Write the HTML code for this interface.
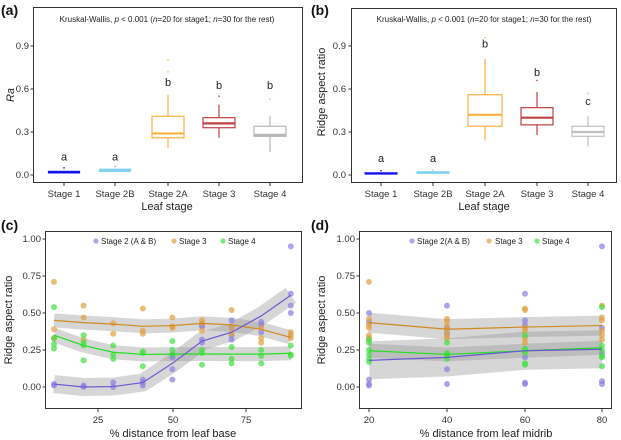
<!DOCTYPE html>
<html><head><meta charset="utf-8"><style>
html,body{margin:0;padding:0;background:#fff}
svg{display:block;font-family:"Liberation Sans",Arial,sans-serif}
</style></head><body>
<svg id="s" width="621" height="440" viewBox="0 0 621 440" xmlns="http://www.w3.org/2000/svg">
<rect width="621" height="440" fill="#fff"/>
<g font-weight="bold" font-size="14" fill="#111">
<text x="1" y="15">(a)</text><text x="311" y="15">(b)</text>
<text x="1" y="230">(c)</text><text x="311" y="230">(d)</text>
</g>
<!-- Panel a -->
<rect x="33.5" y="7.5" width="269" height="175" fill="none" stroke="#333" stroke-width="1"/>
<text x="167" y="22" font-size="8" text-anchor="middle" fill="#222">Kruskal-Wallis, <tspan font-style="italic">p</tspan> &lt; 0.001 (<tspan font-style="italic">n</tspan>=20 for stage1; <tspan font-style="italic">n</tspan>=30 for the rest)</text>
<g font-size="9.5" fill="#333" text-anchor="end">
<text x="29" y="49">0.9</text><text x="29" y="92">0.6</text><text x="29" y="135">0.3</text><text x="29" y="178">0.0</text>
<text x="346" y="49">0.9</text><text x="346" y="92">0.6</text><text x="346" y="135">0.3</text><text x="346" y="178">0.0</text>
</g>
<g stroke="#333" stroke-width="1">
<path d="M30.5 46H33.5M30.5 89H33.5M30.5 132H33.5M30.5 175H33.5"/>
<path d="M348.5 46H351.5M348.5 89H351.5M348.5 132H351.5M348.5 175H351.5"/>
<path d="M64 183V186M115 183V186M168 183V186M219 183V186M270 183V186"/>
<path d="M381 183V186M433 183V186M485 183V186M537 183V186M588 183V186"/>
<path d="M42.5 239H45.5M42.5 276H45.5M42.5 313H45.5M42.5 350H45.5M42.5 387H45.5"/>
<path d="M356.5 239H359.5M356.5 276H359.5M356.5 313H359.5M356.5 350H359.5M356.5 387H359.5"/>
<path d="M98 409V412M173 409V412M246 409V412"/>
<path d="M369 409V412M447 409V412M525 409V412M602 409V412"/>
</g>
<text x="14" y="95" font-size="11" font-style="italic" fill="#222" transform="rotate(-90 14 95)" text-anchor="middle">Ra</text>
<text x="325" y="92" font-size="11" fill="#222" transform="rotate(-90 325 92)" text-anchor="middle">Ridge aspect ratio</text>
<g font-size="9.5" fill="#333" text-anchor="middle">
<text x="64" y="197">Stage 1</text><text x="115" y="197">Stage 2B</text><text x="168" y="197">Stage 2A</text><text x="219" y="197">Stage 3</text><text x="270" y="197">Stage 4</text>
<text x="381" y="197">Stage 1</text><text x="433" y="197">Stage 2B</text><text x="485" y="197">Stage 2A</text><text x="537" y="197">Stage 3</text><text x="588" y="197">Stage 4</text>
</g>
<text x="167" y="210" font-size="11" fill="#222" text-anchor="middle">Leaf stage</text>
<text x="484" y="210" font-size="11" fill="#222" text-anchor="middle">Leaf stage</text>
<!-- Panel b -->
<rect x="351.5" y="8.5" width="265" height="174" fill="none" stroke="#333" stroke-width="1"/>
<text x="484" y="22" font-size="8" text-anchor="middle" fill="#222">Kruskal-Wallis, <tspan font-style="italic">p</tspan> &lt; 0.001 (<tspan font-style="italic">n</tspan>=20 for stage1; <tspan font-style="italic">n</tspan>=30 for the rest)</text>
<g id="boxes"></g>
<rect x="45.5" y="231.5" width="256" height="177" fill="none" stroke="#333" stroke-width="1"/>
<rect x="359.5" y="231.5" width="252" height="177" fill="none" stroke="#333" stroke-width="1"/>
<g font-size="9.5" fill="#333" text-anchor="end">
<text x="41" y="242">1.00</text><text x="41" y="279">0.75</text><text x="41" y="316">0.50</text><text x="41" y="353">0.25</text><text x="41" y="390">0.00</text>
<text x="355" y="242">1.00</text><text x="355" y="279">0.75</text><text x="355" y="316">0.50</text><text x="355" y="353">0.25</text><text x="355" y="390">0.00</text>
</g>
<g font-size="9.5" fill="#333" text-anchor="middle">
<text x="98" y="423">25</text><text x="173" y="423">50</text><text x="246" y="423">75</text>
<text x="369" y="423">20</text><text x="447" y="423">40</text><text x="525" y="423">60</text><text x="602" y="423">80</text>
</g>
<text x="173" y="437" font-size="11" fill="#222" text-anchor="middle">% distance from leaf base</text>
<text x="486" y="437" font-size="11" fill="#222" text-anchor="middle">% distance from leaf midrib</text>
<text x="12" y="320" font-size="11" fill="#222" transform="rotate(-90 12 320)" text-anchor="middle">Ridge aspect ratio</text>
<text x="325" y="320" font-size="11" fill="#222" transform="rotate(-90 325 320)" text-anchor="middle">Ridge aspect ratio</text>
<g id="cd"></g>
<g font-size="8" fill="#222">
<circle cx="96" cy="241" r="2.6" fill="#8a7fe0" opacity=".7"/><text x="101" y="244">Stage 2 (A &amp; B)</text>
<circle cx="174" cy="241" r="2.6" fill="#e0a040" opacity=".7"/><text x="179" y="244">Stage 3</text>
<circle cx="223" cy="241" r="2.6" fill="#40e040" opacity=".7"/><text x="228" y="244">Stage 4</text>
<circle cx="412" cy="241" r="2.6" fill="#8a7fe0" opacity=".7"/><text x="417" y="244">Stage 2(A &amp; B)</text>
<circle cx="489" cy="241" r="2.6" fill="#e0a040" opacity=".7"/><text x="495" y="244">Stage 3</text>
<circle cx="537" cy="241" r="2.6" fill="#40e040" opacity=".7"/><text x="542" y="244">Stage 4</text>
</g>
</svg>
<script>
var NS="http://www.w3.org/2000/svg";
function el(p,t,a){var e=document.createElementNS(NS,t);for(var k in a)e.setAttribute(k,a[k]);p.appendChild(e);return e;}
var B=document.getElementById("boxes");
function ya(v){return 175-v*143.3;}
function box(cx,w,c,fill,q1,md,q3,lo,hi,out){
 el(B,"line",{x1:cx,x2:cx,y1:ya(hi),y2:ya(q3),stroke:c,"stroke-width":1.2});
 el(B,"line",{x1:cx,x2:cx,y1:ya(q1),y2:ya(lo),stroke:c,"stroke-width":1.2});
 el(B,"rect",{x:cx-w/2,y:ya(q3),width:w,height:Math.max(ya(q1)-ya(q3),1),fill:fill,stroke:c,"stroke-width":1.2});
 el(B,"line",{x1:cx-w/2,x2:cx+w/2,y1:ya(md),y2:ya(md),stroke:c,"stroke-width":2.2});
 (out||[]).forEach(function(o){el(B,"circle",{cx:cx,cy:ya(o),r:0.8,fill:c});});
}
function let(x,v,t){var e=el(B,"text",{x:x,y:ya(v),"font-size":11,"text-anchor":"middle",fill:"#222"});e.textContent=t;}
box(64,31,"#1010f0","#1010f0",.015,.02,.025,.015,.025,[.05]);
box(115,31,"#80d0f0","#80d0f0",.025,.03,.04,.02,.045,[.06]);
box(168,32,"#ffb040","#fff",.26,.29,.41,.19,.56,[.72,.8]);
box(219,32,"#c04040","#fff",.33,.36,.40,.26,.49,[.55]);
box(270,32,"#b8b8b8","#fff",.27,.28,.34,.16,.41,[.53]);
let(64,.1,"a");let(115,.1,"a");let(168,.62,"b");let(219,.6,"b");let(270,.6,"b");
box(381,32,"#1010f0","#1010f0",.008,.01,.015,.008,.015,[.03]);
box(433,32,"#80d0f0","#80d0f0",.012,.018,.022,.01,.025,[.035]);
box(485,34,"#ffb040","#fff",.34,.42,.56,.24,.81,[.96]);
box(537,32,"#c04040","#fff",.35,.40,.47,.28,.58,[.66]);
box(588,32,"#c0c0c0","#fff",.27,.30,.34,.20,.41,[.57]);
let(381,.09,"a");let(433,.09,"a");let(485,.89,"b");let(537,.69,"b");let(588,.49,"c");
var G=document.getElementById("cd");
function yc(v){return 387-148*v;}
function xc(v){return 54+(v-10)*2.96;}
var xdm={20:369,40:447,60:525,80:602};
function xd(v){return xdm[v];}
var P="#8a7fe0",O="#e0a040",Gr="#40e040";
function ribbon(pts,fx,w){var s=pts.map(function(p){return fx(p[0])+","+yc(p[1]);}).join(" ");
 el(G,"polyline",{points:s,fill:"none",stroke:"#999","stroke-opacity":.4,"stroke-width":w,"stroke-linejoin":"round"});}
function line(pts,fx,c){var s=pts.map(function(p){return fx(p[0])+","+yc(p[1]);}).join(" ");
 el(G,"polyline",{points:s,fill:"none",stroke:c,"stroke-width":1.2});}
function pts(data,fx,c){for(var k in data)data[k].forEach(function(v){el(G,"circle",{cx:fx(+k),cy:yc(v),r:3,fill:c,"fill-opacity":.7});});}
var cO=[[10,.45],[20,.435],[30,.425],[40,.41],[50,.415],[60,.43],[70,.42],[80,.39],[90,.335]];
var cG=[[10,.35],[20,.28],[30,.235],[40,.22],[50,.222],[60,.223],[70,.222],[80,.222],[90,.228]];
var cP=[[10,.02],[20,0],[30,.003],[40,.03],[50,.16],[60,.31],[70,.37],[80,.48],[90,.62]];
ribbon(cO,xc,14);ribbon(cG,xc,14);ribbon(cP,xc,18);
pts({10:[.02,.01],20:[.01,0],30:[0,.03],40:[.01,.03,.05],50:[.05,.12,.2,.22],60:[.3,.32,.41,.42],70:[.35,.4,.45,.32],80:[.37,.42,.44],90:[.95,.63,.55,.5]},xc,P);
pts({10:[.71,.39,.33],20:[.55,.47,.32],30:[.43,.36],40:[.53,.38,.36],50:[.47,.4,.41],60:[.45,.43,.38],70:[.52,.4,.36],80:[.33,.3,.4],90:[.37,.35,.33]},xc,O);
pts({10:[.54,.33,.29,.26],20:[.35,.3,.28,.18],30:[.28,.22,.19],40:[.24,.23,.14],50:[.31,.25,.22],60:[.25,.23,.15],70:[.27,.19,.16],80:[.25,.21,.16],90:[.28,.22,.21]},xc,Gr);
line(cO,xc,"#d08a20");line(cG,xc,"#20e020");line(cP,xc,"#6a5ad0");
var dO=[[20,.435],[40,.39],[60,.405],[80,.415]],dG=[[20,.245],[40,.22],[60,.245],[80,.265]],dP=[[20,.18],[40,.2],[60,.245],[80,.255]];
ribbon(dO,xd,20);ribbon(dG,xd,14);ribbon(dP,xd,38);
pts({20:[.5,.44,.05,.02,.01],40:[.55,.4,.36,.12,.02],60:[.63,.45,.42,.2,.03,.02],80:[.95,.4,.23,.04,.02]},xd,P);
pts({20:[.71,.46,.42,.4,.35,.33],40:[.46,.44,.41,.38,.35,.33],60:[.53,.52,.4,.38,.33,.3],80:[.55,.47,.45,.38,.35,.32]},xd,O);
pts({20:[.32,.3,.25,.22,.19,.17],40:[.3,.23,.22,.21,.19],60:[.35,.26,.25,.23,.16,.15],80:[.54,.28,.25,.21,.2,.14]},xd,Gr);
line(dO,xd,"#d08a20");line(dG,xd,"#20e020");line(dP,xd,"#6a5ad0");
</script>
</body></html>
